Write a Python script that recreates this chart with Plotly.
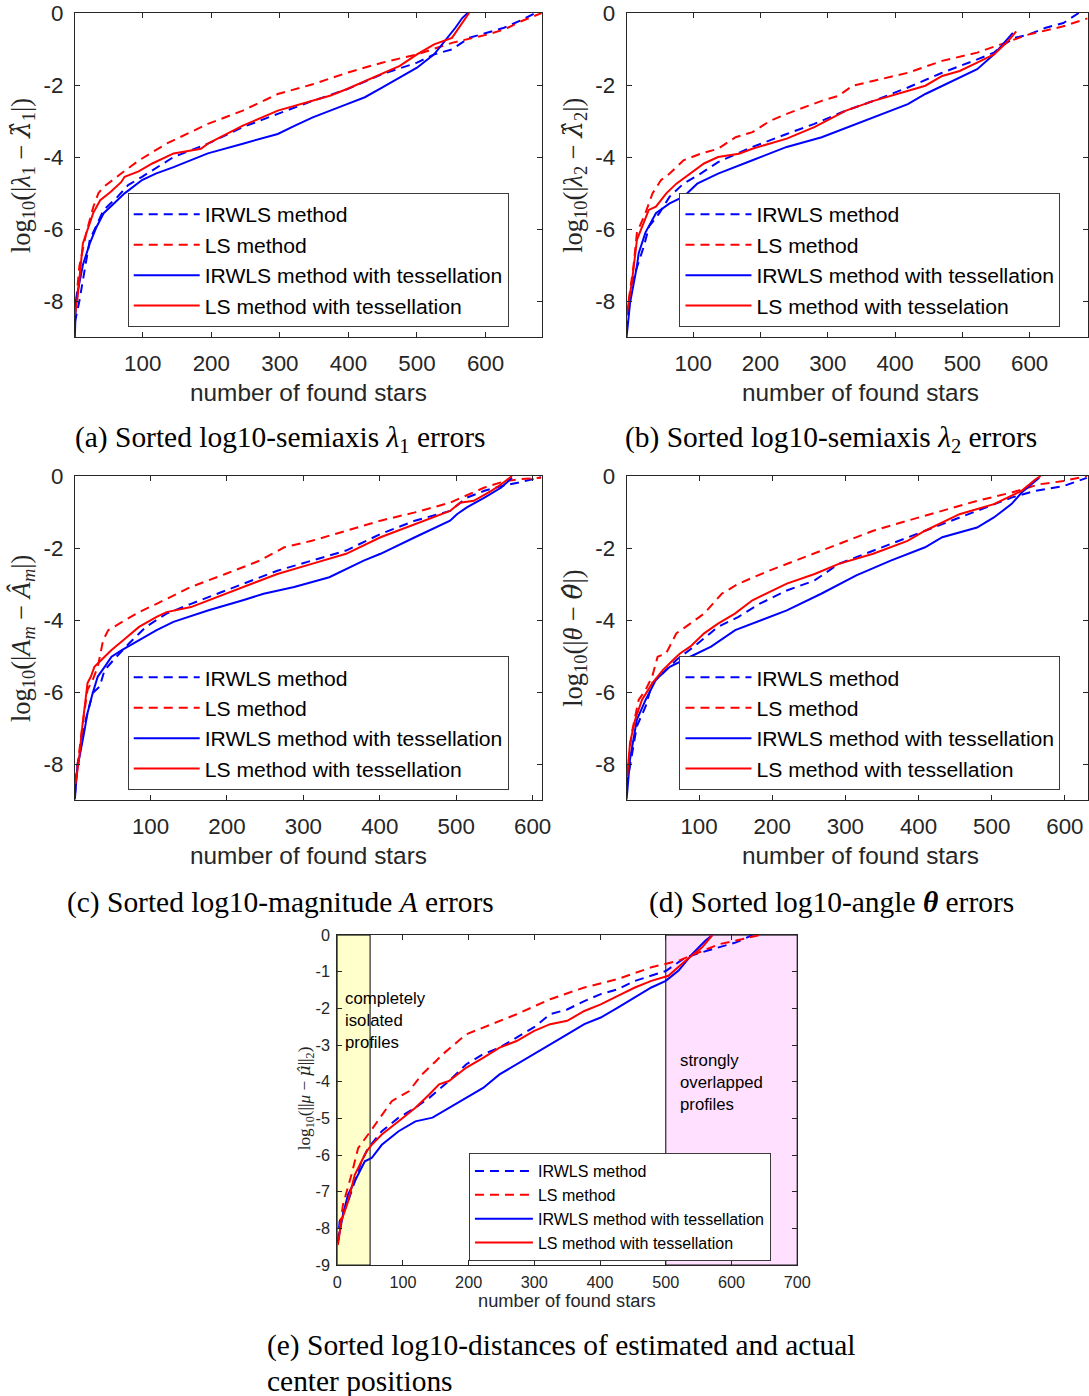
import plotly.graph_objects as go

# ---------------- data ----------------
# Panel (a): semiaxis lambda1
A_IR_X = [1, 7.6, 22.8, 43, 63.5, 78.7, 99, 145, 195, 246, 297, 348, 398, 449, 500, 525, 551, 576, 602, 627, 652, 673]
A_IR_Y = [-8.6, -8.0, -6.3, -5.47, -5.1, -4.78, -4.55, -4.0, -3.63, -3.17, -2.8, -2.44, -2.12, -1.7, -1.38, -1.15, -1.01, -0.69, -0.55, -0.41, -0.2, 0.0]
A_LS_X = [1, 7.6, 17.8, 28, 35.5, 43, 68.5, 94, 134.5, 195, 246, 297, 348, 398, 449, 500, 551, 602, 627, 652, 682]
A_LS_Y = [-8.4, -7.03, -6.1, -5.38, -5.0, -4.83, -4.46, -4.1, -3.63, -3.08, -2.71, -2.25, -1.98, -1.66, -1.38, -1.15, -0.83, -0.6, -0.46, -0.23, 0.0]
A_IRT_X = [1, 2.5, 12.7, 22.8, 33, 43, 58, 73.6, 99, 119, 145, 195, 246, 297, 322, 348, 398, 424, 449, 500, 525, 541, 556, 566, 574]
A_IRT_Y = [-9.0, -8.0, -7.0, -6.4, -5.93, -5.56, -5.29, -5.01, -4.64, -4.46, -4.28, -3.9, -3.63, -3.36, -3.13, -2.9, -2.53, -2.34, -2.07, -1.52, -1.15, -0.78, -0.41, -0.14, 0.0]
A_LST_X = [1, 5, 12.7, 17.8, 27.9, 38, 53, 68.5, 73.6, 94, 114, 145, 185, 195, 246, 297, 348, 373, 398, 449, 475, 500, 525, 551, 561, 571, 576]
A_LST_Y = [-8.4, -7.9, -6.4, -6.1, -5.55, -5.2, -4.97, -4.7, -4.55, -4.4, -4.18, -3.9, -3.77, -3.63, -3.13, -2.71, -2.44, -2.3, -2.11, -1.7, -1.47, -1.15, -0.87, -0.69, -0.41, -0.14, 0.0]

# Panel (b): semiaxis lambda2
B_IR_X = [1, 8.7, 26.7, 34.4, 49.7, 65, 85.6, 111, 137, 188, 239, 280, 327, 368, 419, 470, 522, 547, 562, 578, 598, 624, 650, 673]
B_IR_Y = [-8.8, -7.5, -6.48, -5.93, -5.56, -5.1, -4.74, -4.46, -4.14, -3.72, -3.36, -3.08, -2.71, -2.44, -2.07, -1.66, -1.29, -1.1, -0.87, -0.69, -0.6, -0.41, -0.28, 0.0]
B_LS_X = [1, 11.3, 16.4, 29, 39.5, 52.3, 65, 85.6, 111, 137, 163, 188, 214, 239, 291, 316, 337, 368, 419, 470, 522, 557, 598, 650, 686]
B_LS_Y = [-8.4, -7.03, -6.1, -5.56, -5.01, -4.64, -4.46, -4.09, -3.91, -3.77, -3.45, -3.31, -3.0, -2.8, -2.44, -2.3, -2.02, -1.89, -1.66, -1.33, -1.1, -0.87, -0.6, -0.37, -0.15]
B_IRT_X = [1, 6.2, 16.4, 19, 29, 44.6, 65, 85.6, 106, 137, 188, 239, 291, 342, 393, 419, 445, 496, 522, 547, 568, 575]
B_IRT_Y = [-9.0, -8.05, -7.03, -6.67, -6.1, -5.56, -5.29, -5.1, -4.74, -4.46, -4.09, -3.72, -3.45, -3.08, -2.71, -2.53, -2.25, -1.79, -1.56, -1.15, -0.69, -0.55]
B_LST_X = [1, 8.7, 16.4, 24, 34, 44.6, 60, 75, 96, 116, 137, 168, 188, 239, 280, 327, 368, 419, 445, 470, 496, 522, 547, 568, 580]
B_LST_Y = [-8.4, -7.5, -6.3, -5.93, -5.47, -5.38, -5.01, -4.74, -4.46, -4.18, -4.0, -3.91, -3.77, -3.49, -3.17, -2.71, -2.44, -2.16, -2.02, -1.75, -1.61, -1.38, -1.15, -0.78, -0.51]

# Panel (c): magnitude A
C_IR_X = [1, 4, 15.3, 24.4, 33.4, 40, 53.7, 71.8, 94, 121, 153, 198, 266, 311, 356, 401, 446, 492, 514, 537, 559, 582, 611]
C_IR_Y = [-8.9, -8.06, -6.77, -6.03, -5.85, -5.39, -5.06, -4.65, -4.19, -3.82, -3.55, -3.18, -2.63, -2.35, -2.07, -1.61, -1.24, -0.97, -0.6, -0.41, -0.28, -0.18, -0.03]
C_LS_X = [1.8, 10.8, 17.6, 24.4, 31, 38, 44.7, 67, 85, 108, 153, 198, 243, 275, 311, 356, 401, 446, 492, 537, 564, 582, 611]
C_LS_Y = [-8.52, -6.95, -5.94, -5.66, -5.3, -4.56, -4.28, -4.0, -3.78, -3.55, -3.08, -2.72, -2.35, -1.98, -1.8, -1.52, -1.24, -1.01, -0.74, -0.32, -0.14, -0.09, -0.05]
C_IRT_X = [1, 4, 13, 17.6, 24.4, 31, 40, 49, 63, 85, 108, 130, 176, 221, 248, 288, 334, 379, 401, 446, 492, 501, 514, 537, 559, 573]
C_IRT_Y = [-8.98, -8.15, -7.14, -6.58, -6.03, -5.57, -5.3, -5.02, -4.83, -4.56, -4.28, -4.05, -3.73, -3.45, -3.27, -3.08, -2.81, -2.35, -2.16, -1.7, -1.24, -1.06, -0.87, -0.6, -0.32, -0.05]
C_LST_X = [1.8, 6.3, 10.8, 15.3, 17.6, 22, 26.6, 35.7, 49, 67, 85, 108, 121, 153, 198, 234, 266, 311, 356, 401, 446, 492, 505, 523, 546, 559, 573]
C_LST_Y = [-8.56, -7.9, -6.95, -6.03, -5.75, -5.57, -5.3, -5.11, -4.83, -4.51, -4.19, -3.91, -3.78, -3.64, -3.27, -2.99, -2.72, -2.44, -2.16, -1.70, -1.34, -0.97, -0.74, -0.69, -0.41, -0.23, 0.0]

# Panel (d): angle theta
D_IR_X = [1, 5.7, 15, 27, 36, 50.5, 69, 93, 126, 154, 182.5, 220, 258, 291, 338, 385, 456, 503, 527, 560, 598, 630]
D_IR_Y = [-8.6, -8.06, -6.95, -6.4, -5.76, -5.48, -5.11, -4.74, -4.19, -3.91, -3.55, -3.18, -2.9, -2.44, -2.07, -1.7, -1.15, -0.78, -0.6, -0.41, -0.28, -0.05]
D_LS_X = [1.9, 8, 17.5, 27, 36, 43.4, 55, 69, 88, 107, 131, 154, 197, 244, 291, 338, 385, 432.5, 480, 527, 565, 598, 630]
D_LS_Y = [-8.33, -7.14, -6.22, -5.94, -5.57, -5.02, -4.93, -4.37, -4.1, -3.82, -3.27, -2.99, -2.62, -2.26, -1.89, -1.52, -1.24, -0.97, -0.69, -0.46, -0.23, -0.14, 0.0]
D_IRT_X = [1, 5.7, 15, 27, 41, 60, 88, 116.5, 149.5, 173, 220, 267, 315, 362, 409, 432.5, 480, 503, 527, 541, 555, 565]
D_IRT_Y = [-8.98, -7.87, -6.77, -6.22, -5.66, -5.3, -5.02, -4.74, -4.28, -4.1, -3.73, -3.27, -2.76, -2.35, -1.98, -1.7, -1.43, -1.15, -0.78, -0.46, -0.23, -0.05]
D_LST_X = [1.9, 5.7, 12.7, 22, 36, 50.5, 64.6, 74, 88, 107, 126, 149, 173, 192, 220, 258, 291, 338, 385, 409, 456, 503, 541, 560, 567]
D_LST_Y = [-8.33, -7.41, -6.77, -6.22, -5.76, -5.39, -5.11, -4.93, -4.74, -4.37, -4.1, -3.82, -3.45, -3.27, -2.99, -2.72, -2.44, -2.16, -1.8, -1.52, -1.06, -0.78, -0.41, -0.09, 0.0]

# Panel (e): centre distances
E_IR_X = [1, 3.6, 16.4, 37, 47, 67.8, 93.4, 119, 140, 170, 196, 222, 247, 273, 299, 324, 350, 376, 401, 427, 453, 500, 530, 555, 581, 607, 632]
E_IR_Y = [-8.4, -7.81, -7.27, -6.17, -5.81, -5.35, -4.98, -4.71, -4.44, -3.98, -3.53, -3.25, -3.07, -2.8, -2.52, -2.16, -2.03, -1.8, -1.61, -1.48, -1.25, -0.98, -0.61, -0.47, -0.34, -0.2, 0.0]
E_LS_X = [1, 8.7, 21.6, 31.8, 47, 67.8, 83, 109, 129, 150, 160, 196, 247, 273, 324, 376, 427, 478, 519.5, 555, 581, 607, 643]
E_LS_Y = [-8.36, -7.36, -6.54, -5.81, -5.44, -4.9, -4.53, -4.26, -3.8, -3.44, -3.26, -2.71, -2.34, -2.16, -1.75, -1.43, -1.2, -0.88, -0.7, -0.43, -0.25, -0.15, 0.0]
E_IRT_X = [1, 8.7, 16.4, 31.8, 42, 52.4, 67.8, 93.4, 119, 145, 170, 196, 222, 247, 273, 299, 324, 350, 376, 401, 427, 453, 478, 500, 519.5, 540, 560.5, 571]
E_IRT_Y = [-8.36, -7.63, -7.08, -6.54, -6.17, -6.08, -5.72, -5.35, -5.08, -4.98, -4.71, -4.44, -4.17, -3.8, -3.53, -3.25, -2.98, -2.71, -2.43, -2.25, -1.98, -1.7, -1.43, -1.25, -0.97, -0.52, -0.15, 0.0]
E_LST_X = [1, 6, 16.4, 26.7, 37, 44.7, 52.4, 67.8, 93.4, 119, 140, 155, 170, 196, 222, 247, 273, 299, 324, 350, 376, 401, 427, 453, 478, 504, 530, 555, 571]
E_LST_Y = [-8.45, -7.81, -7.27, -6.54, -6.17, -5.9, -5.72, -5.44, -5.08, -4.71, -4.35, -4.07, -3.98, -3.62, -3.35, -3.07, -2.89, -2.62, -2.43, -2.34, -2.07, -1.89, -1.66, -1.43, -1.25, -1.11, -0.70, -0.34, 0.0]

ISOLATED_RANGE = [0, 50]
OVERLAP_RANGE = [500, 700]

LEGEND_NAMES = ["IRWLS method", "LS method", "IRWLS method with tessellation", "LS method with tessellation"]
LEGEND_NAMES_B = ["IRWLS method", "LS method", "IRWLS method with tessellation", "LS method with tesselation"]
X_TICKS_ABCD = [100, 200, 300, 400, 500, 600]
Y_TICKS_ABCD = [0, -2, -4, -6, -8]
X_TICKS_E = [0, 100, 200, 300, 400, 500, 600, 700]
Y_TICKS_E = [0, -1, -2, -3, -4, -5, -6, -7, -8, -9]

# ---------------- figure ----------------
# the page is shown slightly scaled/offset in the snapshot; compensate
SC, OX, OY = 0.985, 4.0, 12.0
W, H = 1102, 1405
def px(x):
    return ((x - OX) / SC) / W
def py(y):
    return 1 - ((y - OY) / SC) / H
def fs(s):
    return s / SC

BLUE = "rgb(0,0,255)"
RED = "rgb(255,0,0)"
DASH = "9px,6px"
TXT = "#262626"
SANS = "Liberation Sans, Arial, sans-serif"
SERIF = "Liberation Serif, Times New Roman, serif"
HAT = '<span style="font-family:DejaVu Serif">{}</span>'

fig = go.Figure()

panels = [
    ("x", "y", "legend", LEGEND_NAMES,
     [(A_IR_X, A_IR_Y), (A_LS_X, A_LS_Y), (A_IRT_X, A_IRT_Y), (A_LST_X, A_LST_Y)]),
    ("x2", "y2", "legend2", LEGEND_NAMES_B,
     [(B_IR_X, B_IR_Y), (B_LS_X, B_LS_Y), (B_IRT_X, B_IRT_Y), (B_LST_X, B_LST_Y)]),
    ("x3", "y3", "legend3", LEGEND_NAMES,
     [(C_IR_X, C_IR_Y), (C_LS_X, C_LS_Y), (C_IRT_X, C_IRT_Y), (C_LST_X, C_LST_Y)]),
    ("x4", "y4", "legend4", LEGEND_NAMES,
     [(D_IR_X, D_IR_Y), (D_LS_X, D_LS_Y), (D_IRT_X, D_IRT_Y), (D_LST_X, D_LST_Y)]),
    ("x5", "y5", "legend5", LEGEND_NAMES,
     [(E_IR_X, E_IR_Y), (E_LS_X, E_LS_Y), (E_IRT_X, E_IRT_Y), (E_LST_X, E_LST_Y)]),
]
styles = [(BLUE, DASH), (RED, DASH), (BLUE, "solid"), (RED, "solid")]

for xa, ya, lg, names, series in panels:
    for (sx, sy), (col, dash), nm in zip(series, styles, names):
        fig.add_trace(go.Scatter(
            x=sx, y=sy, mode="lines", name=nm,
            line=dict(color=col, width=2, dash=dash),
            xaxis=xa, yaxis=ya, legend=lg, showlegend=True, hoverinfo="skip",
        ))

def axis_common(size):
    return dict(
        showline=True, linecolor=TXT, linewidth=1, mirror="ticks",
        ticks="inside", ticklen=5, tickcolor=TXT, tickwidth=1,
        showgrid=False, zeroline=False,
        tickfont=dict(family=SANS, size=fs(size), color=TXT),
    )

def labels(vals):
    return [str(v) for v in vals]

doms = {
    "": ([74, 542], [13, 337], [1, 682]),
    "2": ([627, 1089], [13, 337], [1, 686]),
    "3": ([74, 542], [476, 800], [1, 612]),
    "4": ([627, 1089], [476, 800], [1, 631]),
}
layout = {}
for k, (xd, yd, xr) in doms.items():
    xax = axis_common(22)
    xax.update(domain=[px(xd[0]), min(1.0, px(xd[1]))], range=xr, tickvals=X_TICKS_ABCD,
               ticktext=labels(X_TICKS_ABCD), anchor="y" + k, ticklabelstandoff=6)
    yax = axis_common(22)
    yax.update(domain=[py(yd[1]), py(yd[0])], range=[-9, 0], tickvals=Y_TICKS_ABCD,
               ticktext=labels(Y_TICKS_ABCD), anchor="x" + k, ticklabelstandoff=6)
    layout["xaxis" + k] = xax
    layout["yaxis" + k] = yax

xax5 = axis_common(16)
xax5.update(domain=[px(337), px(798)], range=[0, 700], tickvals=X_TICKS_E,
            ticktext=labels(X_TICKS_E), anchor="y5", ticklabelstandoff=2)
yax5 = axis_common(16)
yax5.update(domain=[py(1265), py(935)], range=[-9, 0], tickvals=Y_TICKS_E,
            ticktext=labels(Y_TICKS_E), anchor="x5", ticklabelstandoff=3)
layout["xaxis5"] = xax5
layout["yaxis5"] = yax5

def legend_cfg(x, y, size, iw):
    return dict(
        x=px(x), y=py(y), xanchor="left", yanchor="top", xref="paper", yref="paper",
        bgcolor="white", bordercolor="#3a3a3a", borderwidth=1,
        font=dict(family=SANS, size=fs(size), color="black"),
        itemwidth=iw, tracegroupgap=0, traceorder="normal",
    )

layout["legend"] = legend_cfg(127, 193, 20.8, 66)
layout["legend2"] = legend_cfg(680, 193, 20.8, 66)
layout["legend3"] = legend_cfg(127, 656, 20.8, 66)
layout["legend4"] = legend_cfg(680, 656, 20.8, 66)
layout["legend5"] = legend_cfg(469, 1153, 15.8, 58)

fig.update_layout(
    width=W, height=H, margin=dict(l=0, r=0, t=0, b=0),
    paper_bgcolor="white", plot_bgcolor="white", **layout,
)

# shaded regions in (e)
fig.add_shape(type="rect", xref="x5", yref="y5", x0=ISOLATED_RANGE[0], x1=ISOLATED_RANGE[1],
              y0=-9, y1=0, fillcolor="rgb(255,255,204)", line=dict(color="black", width=1),
              layer="below")
fig.add_shape(type="rect", xref="x5", yref="y5", x0=OVERLAP_RANGE[0], x1=OVERLAP_RANGE[1],
              y0=-9, y1=0, fillcolor="rgb(255,224,255)", line=dict(color="black", width=1),
              layer="below")

ann = []
def text(x, y, s, size, family=SANS, color=TXT, angle=0, xanchor="center", align="center"):
    ann.append(dict(x=px(x), y=py(y), xref="paper", yref="paper", text=s, showarrow=False,
                    font=dict(family=family, size=fs(size), color=color), textangle=angle,
                    xanchor=xanchor, yanchor="middle", align=align))

# x axis titles
text(308, 392, "number of found stars", 24)
text(861, 392, "number of found stars", 24)
text(308, 855, "number of found stars", 24)
text(861, 855, "number of found stars", 24)
text(567, 1300, "number of found stars", 18)

# y axis titles
text(22, 175, "log<sub>10</sub>(|<i>λ</i><sub>1</sub> − <i>" + HAT.format("λ\u0302") + "</i><sub>1</sub>|)", 26, SERIF, TXT, -90)
text(575, 175, "log<sub>10</sub>(|<i>λ</i><sub>2</sub> − <i>" + HAT.format("λ\u0302") + "</i><sub>2</sub>|)", 26, SERIF, TXT, -90)
text(22, 638, "log<sub>10</sub>(|<i>A</i><sub><i>m</i></sub> − <i>Â</i><sub><i>m</i></sub>|)", 26, SERIF, TXT, -90)
text(575, 638, "log<sub>10</sub>(|<i>θ</i> − <i>" + HAT.format("θ\u0302") + "</i>|)", 26, SERIF, TXT, -90)
text(305, 1098, "log<sub>10</sub>(||<i>μ</i> − <i>" + HAT.format("μ\u0302") + "</i>||<sub>2</sub>)", 17, SERIF, TXT, -90)

# region labels
text(343, 1020, "completely<br>isolated<br>profiles", 16.5, SANS, "black", 0, "left", "left")
text(679, 1082, "strongly<br>overlapped<br>profiles", 16.5, SANS, "black", 0, "left", "left")

# captions
text(280, 439, "(a) Sorted log10-semiaxis <i>λ</i><sub>1</sub> errors", 29, SERIF, "black")
text(832, 439, "(b) Sorted log10-semiaxis <i>λ</i><sub>2</sub> errors", 29, SERIF, "black")
text(280, 902, "(c) Sorted log10-magnitude <i>A</i> errors", 29, SERIF, "black")
text(832, 902, "(d) Sorted log10-angle <b><i>θ</i></b> errors", 29, SERIF, "black")
text(265, 1345, "(e) Sorted log10-distances of estimated and actual", 29, SERIF, "black", 0, "left", "left")
text(265, 1381, "center positions", 29, SERIF, "black", 0, "left", "left")

fig.update_layout(annotations=ann)
fig.write_html(
    "out.html",
    config={"displayModeBar": False, "staticPlot": True},
    post_script="document.body.style.margin='0';document.body.style.overflow='hidden';",
)
